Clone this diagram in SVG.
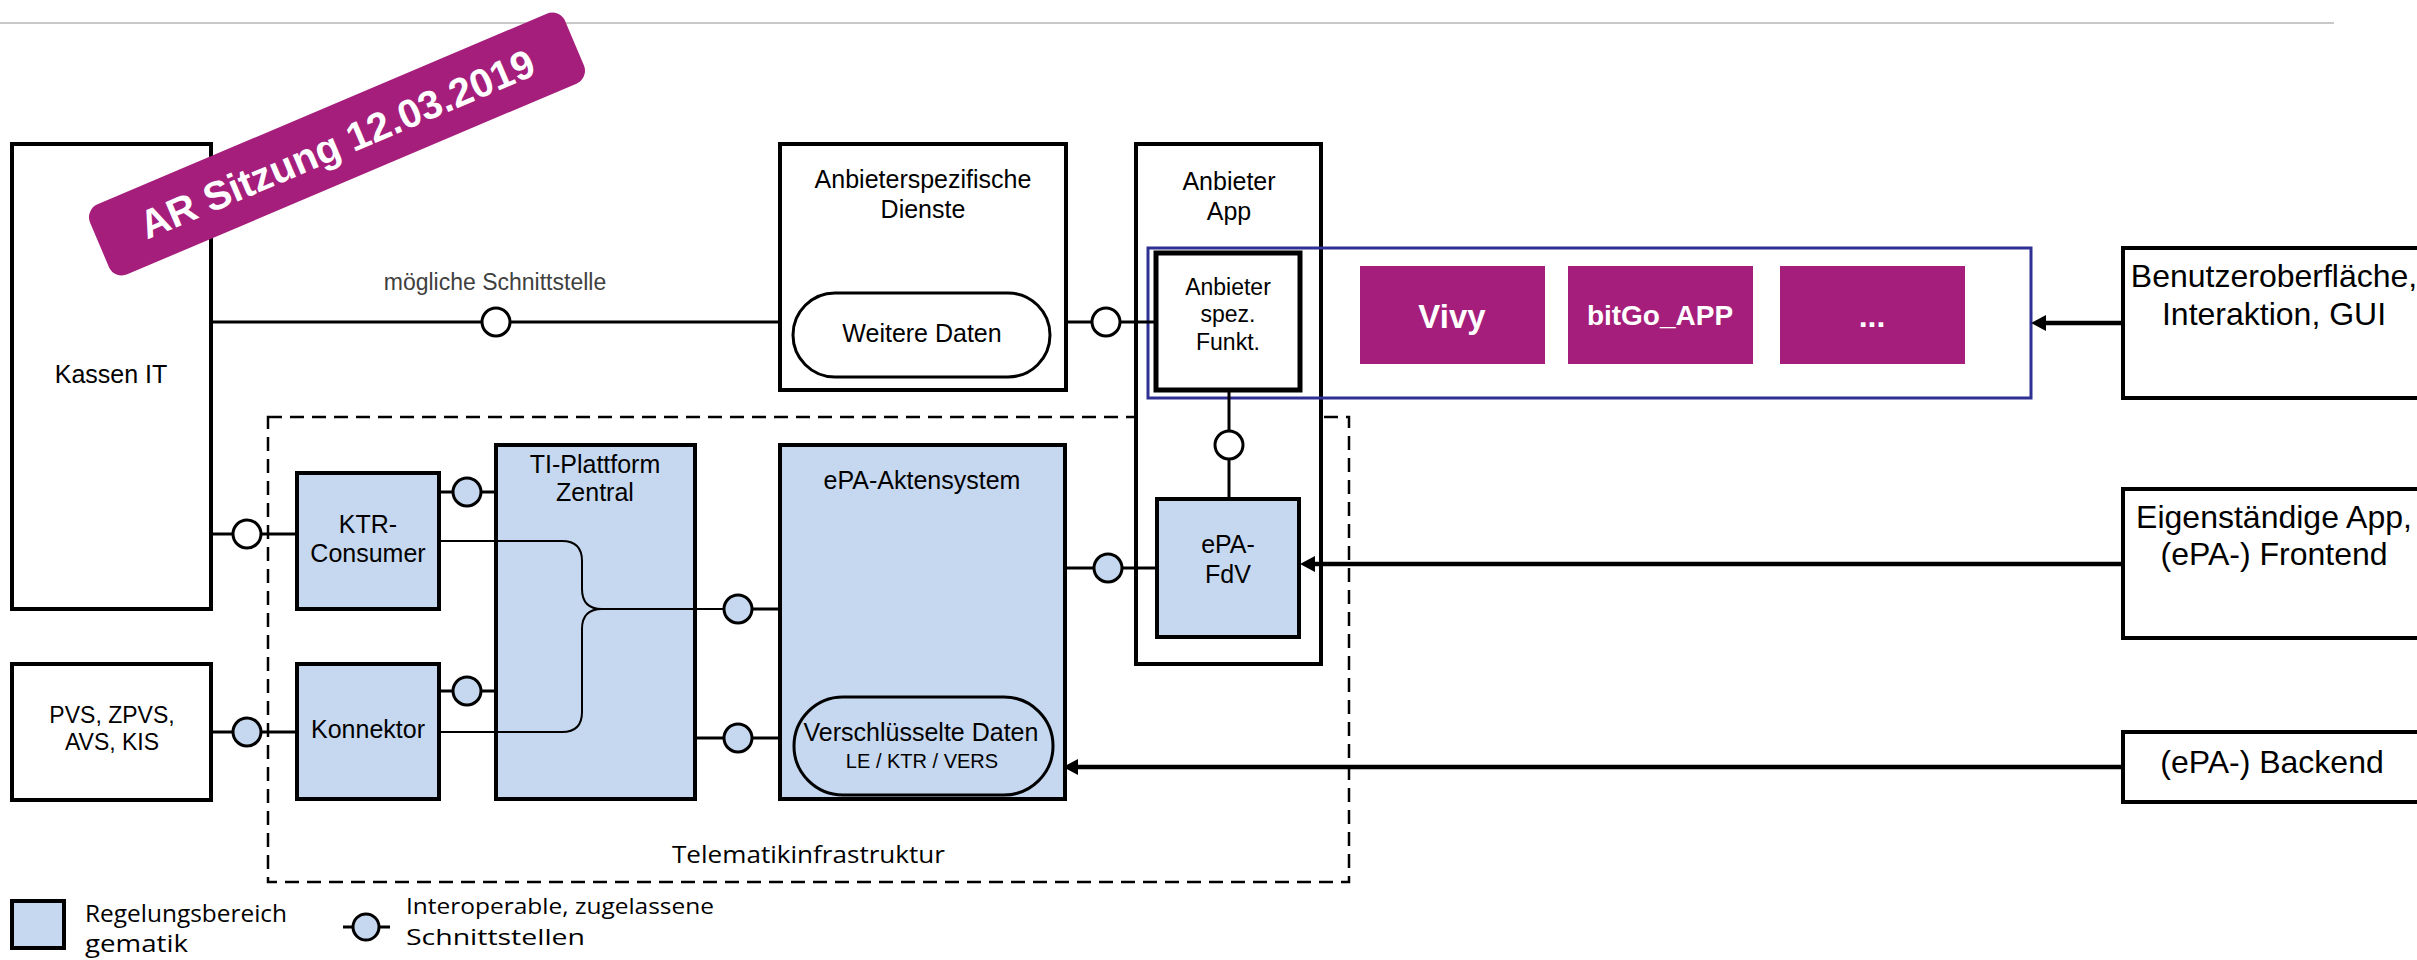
<svg xmlns="http://www.w3.org/2000/svg" width="2417" height="960" viewBox="0 0 2417 960">
<style>
.box{fill:#fff;stroke:#000;stroke-width:4}
.bl{fill:#C6D8EF;stroke:#000;stroke-width:4}
.t{font-family:"Liberation Sans",Arial,sans-serif;font-size:25px;fill:#000;text-anchor:middle}
.t23{font-size:23px}
.t20{font-size:20px}
.t32{font-size:32px}
.ln{stroke:#000;stroke-width:3;fill:none}
.thin{stroke:#000;stroke-width:2;fill:none}
.ifw{fill:#fff;stroke:#000;stroke-width:3}
.ifb{fill:#C6D8EF;stroke:#000;stroke-width:3}
.arr{stroke:#000;stroke-width:4.5;fill:none;marker-end:url(#ah)}
.app{fill:#A61E7B}
.appt{font-family:"Liberation Sans",Arial,sans-serif;font-weight:bold;fill:#fff;text-anchor:middle}
.cal{font-family:"Open Sans",sans-serif;fill:#000}
</style>
<defs>
<marker id="ah" markerWidth="16" markerHeight="16" refX="3" refY="8" orient="auto" markerUnits="userSpaceOnUse">
<path d="M0,0 L15,8 L0,16 Z" fill="#000"/>
</marker>
</defs>
<rect width="2417" height="960" fill="#fff"/>
<line x1="0" y1="23" x2="2334" y2="23" stroke="#C8C8C8" stroke-width="2"/>

<g id="telematikinfrastruktur">
<rect x="268" y="417" width="1081" height="465" fill="none" stroke="#000" stroke-width="2.5" stroke-dasharray="14 8"/>
<text class="cal" x="672" y="863" font-size="23" textLength="273" lengthAdjust="spacingAndGlyphs">Telematikinfrastruktur</text>
</g>

<g id="kassen-it">
<rect class="box" x="12" y="144" width="199" height="465"/>
<text class="t" x="111" y="383">Kassen IT</text>
</g>
<g id="pvs">
<rect class="box" x="12" y="664" width="199" height="136"/>
<text class="t t23" x="112" y="723">PVS, ZPVS,</text>
<text class="t t23" x="112" y="750">AVS, KIS</text>
</g>
<g id="anbieterspezifische-dienste">
<rect class="box" x="780" y="144" width="286" height="246"/>
<text class="t" x="923" y="188">Anbieterspezifische</text>
<text class="t" x="923" y="218">Dienste</text>
<rect x="793" y="293" width="257" height="84" rx="42" fill="#fff" stroke="#000" stroke-width="3"/>
<text class="t" x="922" y="342">Weitere Daten</text>
</g>
<g id="anbieter-app">
<rect class="box" x="1136" y="144" width="185" height="520"/>
<text class="t" x="1229" y="190">Anbieter</text>
<text class="t" x="1229" y="220">App</text>
</g>
<g id="anbieter-spez-funkt">
<rect x="1156" y="253" width="144" height="137" fill="#fff" stroke="#000" stroke-width="5"/>
<text class="t t23" x="1228" y="295">Anbieter</text>
<text class="t t23" x="1228" y="322">spez.</text>
<text class="t t23" x="1228" y="350">Funkt.</text>
</g>
<g id="epa-fdv">
<rect class="bl" x="1157" y="499" width="142" height="138"/>
<text class="t" x="1228" y="553">ePA-</text>
<text class="t" x="1228" y="583">FdV</text>
</g>
<g id="apps">
<rect x="1148" y="248" width="883" height="150" fill="none" stroke="#2E3192" stroke-width="3"/>
<rect class="app" x="1360" y="266" width="185" height="98"/>
<text class="appt" x="1452" y="328" font-size="33">Vivy</text>
<rect class="app" x="1568" y="266" width="185" height="98"/>
<text class="appt" x="1660" y="325" font-size="28">bitGo_APP</text>
<rect class="app" x="1780" y="266" width="185" height="98"/>
<text class="appt" x="1872" y="327" font-size="32">...</text>
</g>
<g id="ktr-consumer">
<rect class="bl" x="297" y="473" width="142" height="136"/>
<text class="t" x="368" y="533">KTR-</text>
<text class="t" x="368" y="562">Consumer</text>
</g>
<g id="konnektor">
<rect class="bl" x="297" y="664" width="142" height="135"/>
<text class="t" x="368" y="738">Konnektor</text>
</g>
<g id="ti-plattform">
<rect class="bl" x="496" y="445" width="199" height="354"/>
<text class="t" x="595" y="473">TI-Plattform</text>
<text class="t" x="595" y="501">Zentral</text>
</g>
<g id="epa-aktensystem">
<rect class="bl" x="780" y="445" width="285" height="354"/>
<text class="t" x="922" y="489">ePA-Aktensystem</text>
<rect x="794" y="697" width="259" height="98" rx="49" fill="#C6D8EF" stroke="#000" stroke-width="3"/>
<text class="t" x="921" y="741">Verschlüsselte Daten</text>
<text class="t t20" x="922" y="768">LE / KTR / VERS</text>
</g>
<g id="benutzeroberflaeche">
<rect class="box" x="2123" y="248" width="320" height="150"/>
<text class="t t32" x="2274" y="287">Benutzeroberfläche,</text>
<text class="t t32" x="2274" y="325">Interaktion, GUI</text>
</g>
<g id="eigenstaendige-app">
<rect class="box" x="2123" y="489" width="320" height="149"/>
<text class="t t32" x="2274" y="528">Eigenständige App,</text>
<text class="t t32" x="2274" y="565">(ePA-) Frontend</text>
</g>
<g id="backend">
<rect class="box" x="2123" y="732" width="320" height="70"/>
<text class="t t32" x="2272" y="773">(ePA-) Backend</text>
</g>

<g id="connectors">
<path class="ln" d="M211,322 H780"/>
<text x="495" y="290" font-family="Liberation Sans, Arial, sans-serif" font-size="23" fill="#404040" text-anchor="middle">mögliche Schnittstelle</text>
<circle class="ifw" cx="496" cy="322" r="14"/>
<path class="ln" d="M1066,322 H1156"/>
<circle class="ifw" cx="1106" cy="322" r="14"/>
<path class="ln" d="M1229,390 V499"/>
<circle class="ifw" cx="1229" cy="445" r="14"/>
<path class="ln" d="M211,534 H297"/>
<circle class="ifw" cx="247" cy="534" r="14"/>
<path class="ln" d="M211,732 H297"/>
<circle class="ifb" cx="247" cy="732" r="14"/>
<path class="ln" d="M439,492 H496"/>
<circle class="ifb" cx="467" cy="492" r="14"/>
<path class="ln" d="M439,691 H496"/>
<circle class="ifb" cx="467" cy="691" r="14"/>
<path class="thin" d="M439,541 H562 Q582,541 582,561 V589 Q582,609 602,609 H724"/>
<path class="thin" d="M439,732 H562 Q582,732 582,712 V629 Q582,609 602,609"/>
<path class="ln" d="M752,609 H780"/>
<circle class="ifb" cx="738" cy="609" r="14"/>
<path class="ln" d="M695,738 H780"/>
<circle class="ifb" cx="738" cy="738" r="14"/>
<path class="ln" d="M1065,568 H1157"/>
<circle class="ifb" cx="1108" cy="568" r="14"/>
<path class="arr" d="M2123,323 H2043"/>
<path class="arr" d="M2123,564 H1312"/>
<path class="arr" d="M2123,767 H1075"/>
</g>

<g id="legend">
<rect class="bl" x="12" y="901" width="52" height="47"/>
<text class="cal" x="85" y="922" font-size="23" textLength="202" lengthAdjust="spacingAndGlyphs">Regelungsbereich</text>
<text class="cal" x="85" y="952" font-size="23" textLength="103" lengthAdjust="spacingAndGlyphs">gematik</text>
<path class="ln" d="M343,927 H390"/>
<circle class="ifb" cx="366" cy="927" r="13"/>
<text class="cal" x="406" y="914" font-size="21" textLength="308" lengthAdjust="spacingAndGlyphs">Interoperable, zugelassene</text>
<text class="cal" x="406" y="945" font-size="21" textLength="179" lengthAdjust="spacingAndGlyphs">Schnittstellen</text>
</g>

<g id="badge" transform="translate(337,144) rotate(-23)">
<rect x="-258" y="-38" width="516" height="76" rx="14" fill="#A61E7B"/>
<text x="0" y="14" font-family="Liberation Sans, Arial, sans-serif" font-size="40" font-weight="bold" fill="#fff" text-anchor="middle">AR Sitzung 12.03.2019</text>
</g>
</svg>
